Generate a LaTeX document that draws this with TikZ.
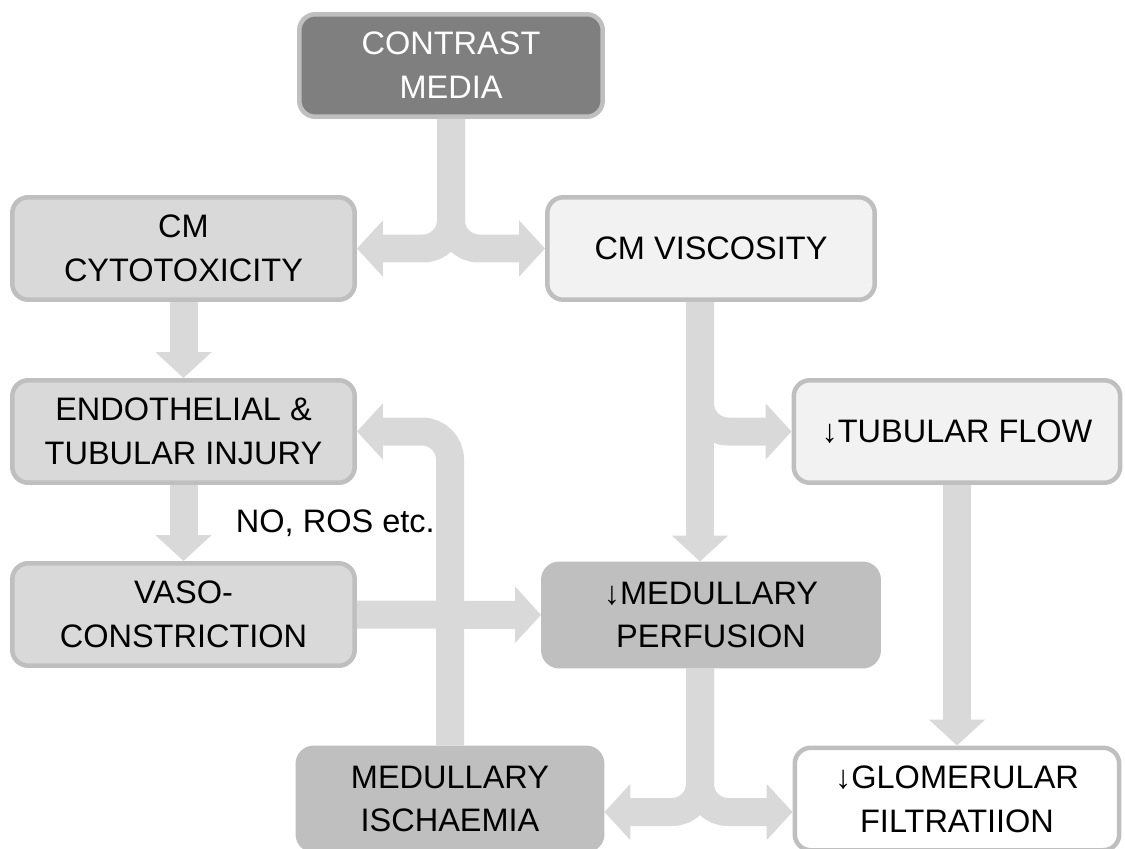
\documentclass[tikz,border=0pt]{standalone}
\usepackage{fontspec}
\setmainfont{Liberation Sans}
\usepackage{tikz}
\usetikzlibrary{arrows.meta}

\definecolor{boxline}{HTML}{BFBFBF}
\definecolor{darkfill}{HTML}{7F7F7F}
\definecolor{midfill}{HTML}{BFBFBF}
\definecolor{lightfill}{HTML}{D9D9D9}
\definecolor{palefill}{HTML}{F2F2F2}
\definecolor{flowgray}{HTML}{D9D9D9}

\tikzset{
    box/.style={shape=rectangle, rounded corners=0.32cm, draw=boxline, line width=0.09cm,
        minimum height=2.05cm, inner sep=0pt, align=center,
        font=\fontsize{18.5pt}{25pt}\selectfont},
    note/.style={inner sep=0pt, xshift=0.77cm, font=\fontsize{18.5pt}{25pt}\selectfont},
    flow/.style={draw=flowgray, line width=0.56cm, rounded corners=0.56cm,
        -{Triangle[length=0.52cm, width=1.1cm]}},
}

\begin{document}
\begin{tikzpicture}[x=0.02cm, y=-0.02cm]
    \useasboundingbox (0,0) rectangle (1125,848);

    \node[box, fill=darkfill, text=white, minimum width=6.07cm] (media) at (451,65.5) {CONTRAST\\MEDIA};
    \node[box, fill=lightfill, minimum width=6.85cm] (cyto) at (183.5,248.5) {CM\\CYTOTOXICITY};
    \node[box, fill=palefill, minimum width=6.55cm] (visc) at (711,248.5) {CM VISCOSITY};
    \node[box, fill=lightfill, minimum width=6.85cm] (injury) at (183.5,431.5) {ENDOTHELIAL \&\\TUBULAR INJURY};
    \node[box, fill=palefill, minimum width=6.53cm] (tubflow) at (957,431.5) {↓TUBULAR FLOW};
    \node[box, fill=lightfill, minimum width=6.85cm] (vaso) at (183.5,614.5) {VASO-\\CONSTRICTION};
    \node[box, fill=midfill, draw=midfill, minimum width=6.71cm] (perfusion) at (711,615) {↓MEDULLARY\\PERFUSION};
    \node[box, fill=midfill, draw=midfill, minimum width=6.09cm] (ischaemia) at (450,799) {MEDULLARY\\ISCHAEMIA};
    \node[box, fill=white, minimum width=6.49cm] (gfr) at (957,799) {↓GLOMERULAR\\FILTRATIION};

    \draw[flow] (media.south) |- (cyto.east);
    \draw[flow] (media.south) |- (visc.west);
    \draw[flow] (cyto) -- (injury);
    \draw[flow] (injury) -- (vaso) node[midway, right, note] {NO, ROS etc.};
    \draw[flow] (vaso) -- (perfusion);
    \draw[flow] (ischaemia.north) |- (injury.east);
    \draw[flow] ([xshift=-0.22cm]visc.south) -- ([xshift=-0.22cm]perfusion.north);
    \draw[flow] ([xshift=-0.22cm]visc.south) |- (tubflow.west);
    \draw[flow] (tubflow) -- (gfr);
    \draw[flow] ([xshift=-0.22cm]perfusion.south) |- ([yshift=-0.26cm]ischaemia.east);
    \draw[flow] ([xshift=-0.22cm]perfusion.south) |- ([yshift=-0.26cm]gfr.west);

\end{tikzpicture}
\end{document}
